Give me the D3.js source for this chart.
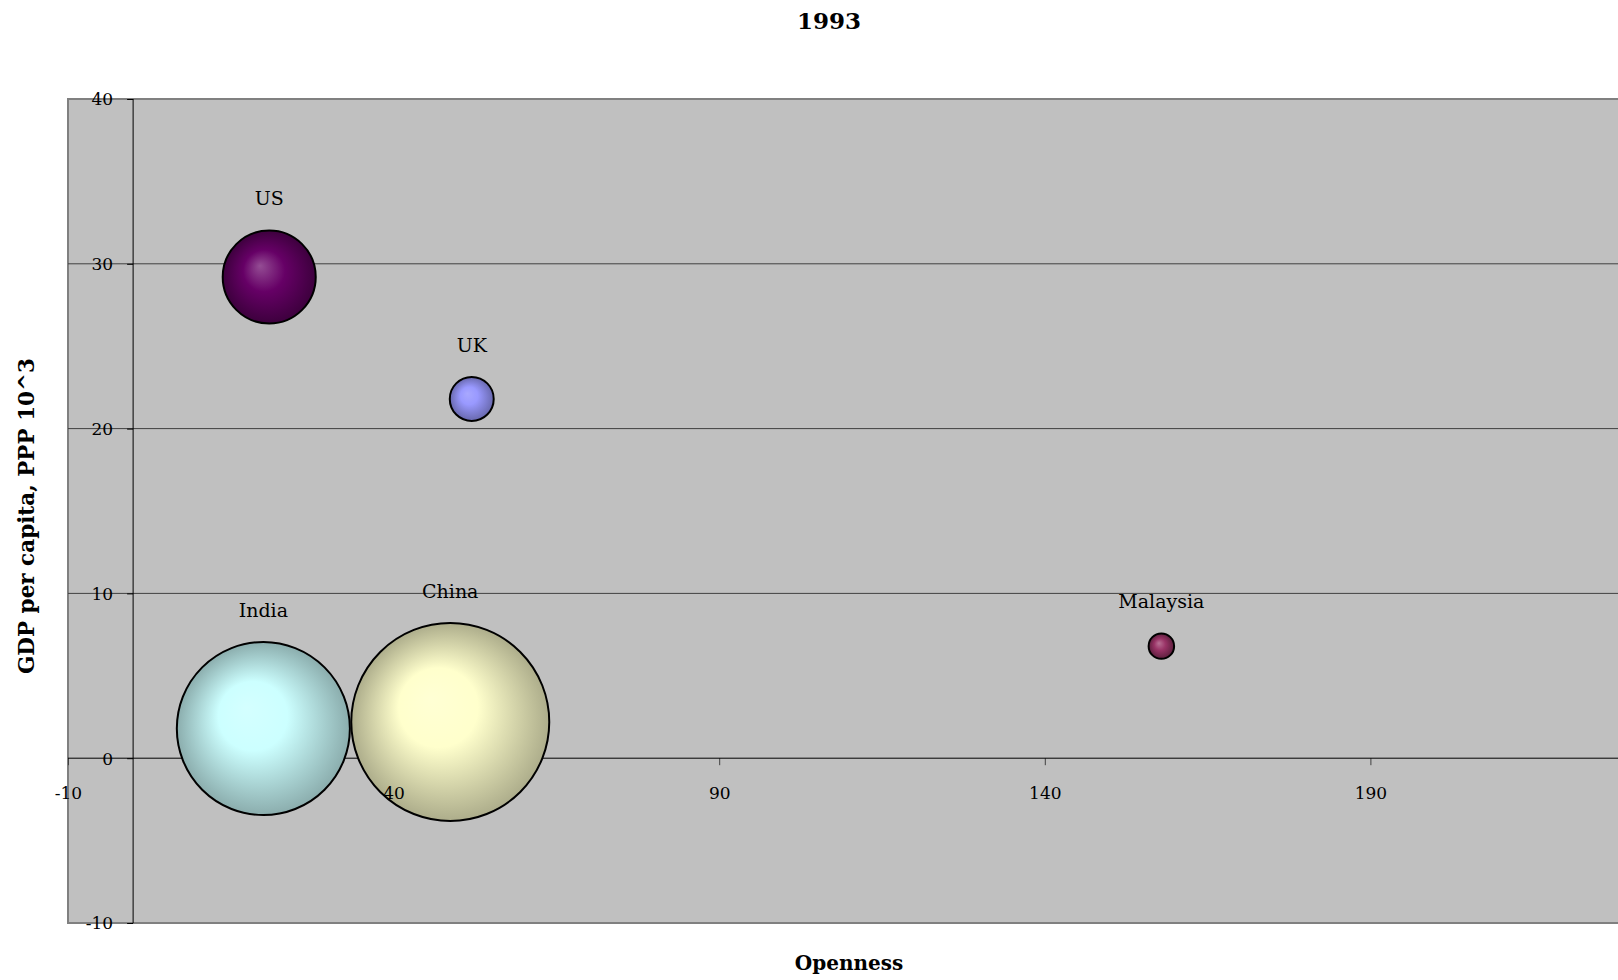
<!DOCTYPE html>
<html>
<head>
<meta charset="utf-8">
<script src="https://cdn.jsdelivr.net/npm/d3@7"></script>
<style>
  html, body { margin: 0; padding: 0; background: #ffffff; overflow: hidden; }
  svg { display: block; font-family: "DejaVu Serif", Georgia, serif; }
</style>
</head>
<body>
<svg id="chart" width="1618" height="980"></svg>
<script>
// ---- data ----
const countries  = ["UK", "Malaysia", "China", "India", "US"];
const openness   = [52.0, 157.9, 48.7, 20.0, 20.9];
const gdpPerCap  = [21.8, 6.8, 2.2, 1.8, 29.2];
const population = [58, 19.5, 1178, 900, 260];
const colors     = ["#9999FF", "#993366", "#FFFFCC", "#CCFFFF", "#660066"];
const xTicks     = [-10, 40, 90, 140, 190];
const yTicks     = [-10, 0, 10, 20, 30, 40];
const chartTitle = "1993";
const xTitle     = "Openness";
const yTitle     = "GDP per capita, PPP 10^3";

const W = 1618, H = 980;
const plot = { left: 68, top: 99, bottom: 923 };

const svg = d3.select("#chart");

const x = d3.scaleLinear().domain([-10, 240]).range([plot.left, plot.left + 250 * 6.512]);
const y = d3.scaleLinear().domain([-10, 40]).range([plot.bottom, plot.top]);
const r = d3.scaleSqrt().domain([0, 1178]).range([0, 99]);
const fmt = d => String(d); // plain hyphen for negatives

// gradients
const defs = svg.append("defs");
function shade(c, k) {
  const col = d3.rgb(c);
  return d3.rgb(col.r * k, col.g * k, col.b * k).toString();
}
function tint(c, t) {
  return d3.interpolateRgb(c, "#ffffff")(t);
}
colors.forEach((c, i) => {
  const dark = d3.hsl(c).l < 0.5;
  const g = defs.append("radialGradient")
    .attr("id", "grad" + i)
    .attr("cx", "50%").attr("cy", "50%").attr("r", "50%")
    .attr("fx", "40%").attr("fy", "38%");
  g.append("stop").attr("offset", "0%").attr("stop-color", dark ? tint(c, 0.3) : tint(c, 0.15));
  g.append("stop").attr("offset", dark ? "45%" : "40%").attr("stop-color", c);
  g.append("stop").attr("offset", "100%").attr("stop-color", shade(c, dark ? 0.6 : 0.68));
});

// plot area
svg.append("rect")
  .attr("x", plot.left).attr("y", plot.top)
  .attr("width", W + 20).attr("height", plot.bottom - plot.top)
  .attr("fill", "#C0C0C0")
  .attr("stroke", "#808080").attr("stroke-width", 2);

// gridlines
svg.append("g").selectAll("line")
  .data(yTicks.filter(v => v !== 0 && v !== -10 && v !== 40))
  .join("line")
  .attr("x1", plot.left).attr("x2", W)
  .attr("y1", d => y(d)).attr("y2", d => y(d))
  .attr("stroke", "#404040").attr("stroke-width", 1);

// x axis ticks + line (behind bubbles)
const xAxis = svg.append("g")
  .attr("transform", `translate(0,${y(0)})`)
  .call(d3.axisBottom(x).tickValues(xTicks).tickSize(7).tickFormat(""));
xAxis.select(".domain").remove();
xAxis.selectAll(".tick line").attr("stroke", "#404040");
svg.append("line")
  .attr("x1", plot.left).attr("x2", W)
  .attr("y1", y(0)).attr("y2", y(0))
  .attr("stroke", "#000").attr("stroke-width", 1);

// y axis ticks + line
const yAxis = svg.append("g")
  .attr("transform", `translate(${x(0)},0)`)
  .call(d3.axisLeft(y).tickValues(yTicks).tickSize(6).tickFormat(""));
yAxis.select(".domain").remove();
yAxis.selectAll(".tick line").attr("stroke", "#000");
svg.append("line")
  .attr("x1", x(0)).attr("x2", x(0))
  .attr("y1", plot.top).attr("y2", plot.bottom)
  .attr("stroke", "#000").attr("stroke-width", 1);

// bubbles
const data = countries.map((c, i) => ({
  name: c, ox: openness[i], gy: gdpPerCap[i], pop: population[i], i
}));
svg.append("g").selectAll("circle")
  .data(data)
  .join("circle")
  .attr("cx", d => x(d.ox))
  .attr("cy", d => y(d.gy))
  .attr("r", d => r(d.pop))
  .attr("fill", d => `url(#grad${d.i})`)
  .attr("stroke", "#000").attr("stroke-width", 2);

// tick labels on top of bubbles
const xLab = svg.append("g")
  .attr("transform", `translate(0,${y(0)})`)
  .call(d3.axisBottom(x).tickValues(xTicks).tickSize(0).tickFormat(fmt));
xLab.select(".domain").remove();
xLab.selectAll(".tick line").remove();
xLab.selectAll(".tick text")
  .attr("y", 35).attr("dy", "0.35em")
  .attr("font-family", "DejaVu Serif").attr("font-size", 17).attr("fill", "#000");

const yLab = svg.append("g")
  .attr("transform", `translate(${x(0)},0)`)
  .call(d3.axisLeft(y).tickValues(yTicks).tickSize(0).tickPadding(20).tickFormat(fmt));
yLab.select(".domain").remove();
yLab.selectAll(".tick line").remove();
yLab.selectAll(".tick text")
  .attr("dy", "0.35em")
  .attr("font-family", "DejaVu Serif").attr("font-size", 17).attr("fill", "#000");

// bubble labels
svg.append("g").selectAll("text")
  .data(data)
  .join("text")
  .attr("x", d => x(d.ox))
  .attr("y", d => y(d.gy) - r(d.pop) - 32)
  .attr("dy", "0.35em")
  .attr("text-anchor", "middle")
  .attr("font-size", 19)
  .attr("fill", "#000")
  .text(d => d.name);

// titles
svg.append("text")
  .attr("x", 829).attr("y", 21).attr("dy", "0.35em")
  .attr("text-anchor", "middle")
  .attr("font-size", 23).attr("font-weight", "bold")
  .text(chartTitle);

svg.append("text")
  .attr("x", 849).attr("y", 963).attr("dy", "0.35em")
  .attr("text-anchor", "middle")
  .attr("font-size", 20).attr("font-weight", "bold")
  .text(xTitle);

svg.append("text")
  .attr("transform", "translate(26,516) rotate(-90)")
  .attr("dy", "0.35em")
  .attr("text-anchor", "middle")
  .attr("font-size", 21.5).attr("font-weight", "bold")
  .text(yTitle);
</script>
</body>
</html>
